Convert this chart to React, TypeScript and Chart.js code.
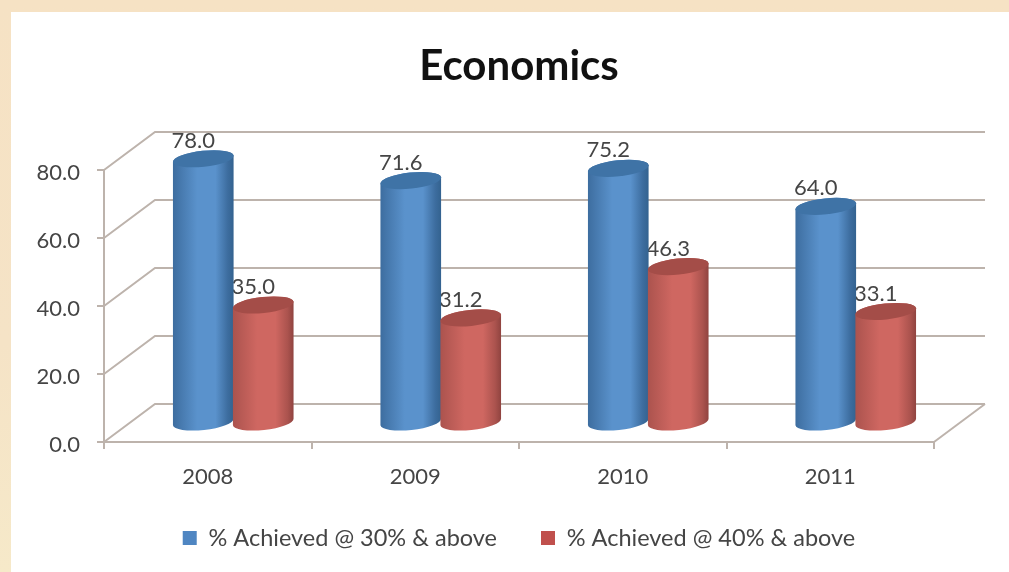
import React, { useEffect, useRef } from "react";
import { Chart, registerables } from "chart.js";

Chart.register(...registerables);

const categories = ["2008", "2009", "2010", "2011"];
const achieved30 = [78.0, 71.6, 75.2, 64.0];
const achieved40 = [35.0, 31.2, 46.3, 33.1];
const seriesNames = ["% Achieved @ 30% & above", "% Achieved @ 40% & above"];

const FONT = "Lato, Carlito, 'Open Sans', sans-serif";
const TEXT = "#454545";
const GRID = "#bdb3ac";
const DX = 51;
const DY = 38;

const PALETTES = [
  { edgeL: "#3d6d9f", mid: "#5a92cc", edgeR: "#33628f", top: "#3f73a6", swatch: "#4f86c2" },
  { edgeL: "#ab534e", mid: "#cf6761", edgeR: "#8f433f", top: "#a44d48", swatch: "#c0504d" },
];

function cylinder(ctx: CanvasRenderingContext2D, el: any, pal: (typeof PALETTES)[number]) {
  const cx = el.x + DX / 2;
  const rx = el.width / 2 + 0.5;
  const ry = 8;
  const rot = (-6 * Math.PI) / 180;
  const topY = el.y - DY / 2 + 1;
  const baseY = el.base - DY / 2;
  const grad = ctx.createLinearGradient(cx - rx, 0, cx + rx, 0);
  grad.addColorStop(0, pal.edgeL);
  grad.addColorStop(0.4, pal.mid);
  grad.addColorStop(0.7, pal.mid);
  grad.addColorStop(0.9, pal.edgeL);
  grad.addColorStop(1, pal.edgeR);
  ctx.beginPath();
  ctx.ellipse(cx, baseY, rx, ry, rot, 0, Math.PI, false);
  ctx.ellipse(cx, topY, rx, ry, rot, Math.PI, Math.PI * 2, false);
  ctx.closePath();
  ctx.fillStyle = grad;
  ctx.fill();
  ctx.beginPath();
  ctx.ellipse(cx, topY, rx, ry, rot, 0, Math.PI * 2);
  ctx.fillStyle = pal.top;
  ctx.fill();
}

const scene = {
  id: "scene",
  beforeDatasetsDraw(chart: any) {
    const { ctx, scales } = chart;
    const { x, y } = scales;
    ctx.save();
    ctx.strokeStyle = GRID;
    ctx.lineWidth = 2;
    y.ticks.forEach((t: any) => {
      const py = y.getPixelForValue(t.value);
      ctx.beginPath();
      ctx.moveTo(x.left, py);
      ctx.lineTo(x.left + DX, py - DY);
      ctx.lineTo(x.right + DX, py - DY);
      ctx.stroke();
    });
    ctx.beginPath();
    ctx.moveTo(x.right, y.bottom);
    ctx.lineTo(x.right + DX, y.bottom - DY);
    ctx.stroke();
    ctx.restore();
  },
  beforeDatasetDraw() {
    return false;
  },
  afterDatasetsDraw(chart: any) {
    const { ctx } = chart;
    ctx.save();
    ctx.font = `22px ${FONT}`;
    ctx.fillStyle = TEXT;
    ctx.textAlign = "center";
    ctx.textBaseline = "middle";
    chart.data.datasets.forEach((ds: any, i: number) => {
      chart.getDatasetMeta(i).data.forEach((el: any, j: number) => {
        ctx.fillText(ds.data[j].toFixed(1), el.x + DX / 2 - 10, el.y - DY / 2 - 17);
      });
    });
    chart.data.datasets.forEach((_: any, i: number) => {
      chart.getDatasetMeta(i).data.forEach((el: any) => cylinder(ctx, el, PALETTES[i]));
    });
    ctx.restore();
  },
};

export default function App() {
  const ref = useRef<HTMLCanvasElement>(null);
  useEffect(() => {
    document.body.style.margin = "0";
    const chart = new Chart(ref.current as HTMLCanvasElement, {
      type: "bar",
      data: {
        labels: categories,
        datasets: [
          { label: seriesNames[0], data: achieved30, backgroundColor: PALETTES[0].swatch },
          { label: seriesNames[1], data: achieved40, backgroundColor: PALETTES[1].swatch },
        ],
      },
      options: {
        responsive: false,
        animation: false,
        layout: { padding: { left: 29, right: 0, top: 0, bottom: 12.25 } },
        datasets: { bar: { categoryPercentage: 0.578, barPercentage: 1 } },
        plugins: {
          title: {
            display: true,
            text: "Economics",
            color: "#111111",
            font: { family: FONT, size: 42, weight: "bold" },
            padding: { top: 40.8, bottom: 78.8 },
          },
          legend: {
            position: "bottom",
            labels: {
              color: TEXT,
              font: { family: FONT, size: 23.5 },
              boxWidth: 14,
              boxHeight: 14,
              padding: 44,
            },
          },
          tooltip: { enabled: false },
        },
        scales: {
          x: {
            afterFit: (s: any) => {
              s.height = 40.25;
              s._computeLabelArea = () => undefined;
            },
            grid: { drawOnChartArea: false, color: GRID, lineWidth: 2, tickLength: 7 },
            border: { color: GRID, width: 2 },
            ticks: { color: TEXT, font: { family: FONT, size: 22 }, padding: 15, maxRotation: 0 },
          },
          y: {
            min: 0,
            max: 80,
            afterFit: (s: any) => {
              s.width = 75;
            },
            grid: { drawOnChartArea: false, color: GRID, lineWidth: 2, tickLength: 7 },
            border: { color: GRID, width: 2 },
            ticks: {
              stepSize: 20,
              color: TEXT,
              font: { family: FONT, size: 22 },
              padding: 17,
              labelOffset: 3,
              callback: (v: any) => Number(v).toFixed(1),
            },
          },
          rightGutter: {
            position: "right",
            display: true,
            afterFit: (s: any) => {
              s.width = 75;
            },
            grid: { display: false },
            border: { display: false },
            ticks: { display: false },
          },
        },
      },
      plugins: [scene],
    } as any);
    return () => chart.destroy();
  }, []);

  return (
    <div
      style={{
        position: "absolute",
        left: 0,
        top: 0,
        width: 1009,
        height: 572,
        overflow: "hidden",
        background: "linear-gradient(180deg, #f6e2c4 0%, #f5e3c6 60%, #f6e9c9 100%)",
      }}
    >
      <div style={{ position: "absolute", left: 11, top: 12, width: 998, height: 560, background: "#ffffff" }} />
      <canvas ref={ref} width={1009} height={572} style={{ position: "absolute", left: 0, top: 0, display: "block" }} />
    </div>
  );
}
